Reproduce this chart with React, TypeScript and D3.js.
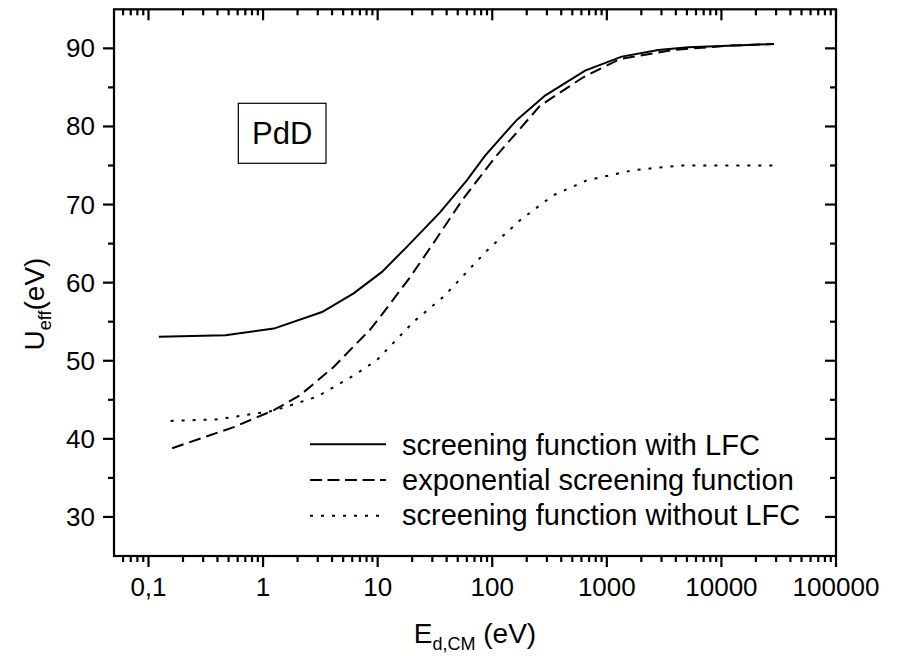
import React from "react";
import * as d3 from "d3";

// Data (energy in eV, U_eff in eV)
const solidE = [0.123, 0.469, 1.24, 3.27, 6.17, 10.9, 18.5, 35, 60, 87, 164, 289, 646, 1349, 2812, 5140, 15000, 28800];
const solidU = [53.07, 53.26, 54.12, 56.24, 58.63, 61.38, 64.77, 69.0, 73.1, 76.3, 80.84, 83.95, 87.15, 88.94, 89.8, 90.13, 90.4, 90.56];

const dashE = [0.161, 0.284, 0.555, 1.24, 2.11, 4.13, 8.6, 10.5, 19.2, 31.8, 54.3, 106, 262, 623, 1303, 3800, 12000, 28800];
const dashU = [38.8, 40.05, 41.5, 43.67, 45.6, 49.2, 54.0, 55.6, 60.7, 65.4, 70.5, 76.06, 82.67, 86.3, 88.64, 89.8, 90.35, 90.56];

const dotE = [0.156, 0.4, 1.24, 2.96, 6.17, 9.86, 20.6, 37.6, 89.8, 175, 342, 668, 1702, 4345, 28800];
const dotU = [42.3, 42.5, 43.6, 45.4, 48.1, 50.1, 55.0, 58.2, 64.1, 68.0, 71.2, 73.1, 74.4, 75.0, 75.0];

const xMajor = [0.1, 1, 10, 100, 1000, 10000, 100000];
const xMajorLabels = ["0,1", "1", "10", "100", "1000", "10000", "100000"];
const yMajor = [30, 40, 50, 60, 70, 80, 90];
const yMinor = [35, 45, 55, 65, 75, 85];

const legendLabels = [
  "screening function with LFC",
  "exponential screening function",
  "screening function without LFC",
];

const FONT = "'Liberation Sans', Arial, Helvetica, sans-serif";

export default function App() {
  const W = 898, H = 656;
  const left = 114, right = 836, top = 9.3, bottom = 556;
  const x = d3.scaleLog().domain([0.05, 100000]).range([left, right]);
  const y = d3.scaleLinear().domain([25, 95]).range([bottom, top]);

  const xMinor: number[] = [];
  for (let e = -2; e <= 4; e++) {
    for (let m = 2; m <= 9; m++) {
      const v = m * Math.pow(10, e);
      if (v > 0.05 && v < 100000) xMinor.push(v);
    }
  }

  const line = d3
    .line<[number, number]>()
    .x((d) => x(d[0]))
    .y((d) => y(d[1]))
    .curve(d3.curveLinear);

  const series = [
    { e: solidE, u: solidU, dash: undefined as string | undefined },
    { e: dashE, u: dashU, dash: "12,6" },
    { e: dotE, u: dotU, dash: "3,8" },
  ];

  const majorLen = 11, minorLen = 6;

  return (
    <svg
      width={W}
      height={H}
      style={{ position: "absolute", left: 0, top: 0, background: "#fff" }}
      fontFamily={FONT}
    >
      <rect x={0} y={0} width={W} height={H} fill="#fff" />
      {series.map((s, i) => (
        <path
          key={i}
          d={line(s.e.map((v, j) => [v, s.u[j]] as [number, number])) || ""}
          fill="none"
          stroke="#000"
          strokeWidth={2}
          strokeDasharray={s.dash}
        />
      ))}

      <rect
        x={left}
        y={top}
        width={right - left}
        height={bottom - top}
        fill="none"
        stroke="#000"
        strokeWidth={2.2}
      />

      {xMajor.map((v) => (
        <g key={"xM" + v}>
          <line x1={x(v)} x2={x(v)} y1={bottom} y2={bottom + majorLen} stroke="#000" strokeWidth={2.2} />
          <line x1={x(v)} x2={x(v)} y1={top} y2={top + majorLen} stroke="#000" strokeWidth={2.2} />
        </g>
      ))}
      {xMinor.map((v) => (
        <g key={"xm" + v}>
          <line x1={x(v)} x2={x(v)} y1={bottom} y2={bottom + minorLen} stroke="#000" strokeWidth={2.2} />
          <line x1={x(v)} x2={x(v)} y1={top} y2={top + minorLen} stroke="#000" strokeWidth={2.2} />
        </g>
      ))}
      {xMajor.map((v, i) => (
        <text key={"xl" + v} x={x(v)} y={596} fontSize={26} textAnchor="middle" fill="#000">
          {xMajorLabels[i]}
        </text>
      ))}

      {yMajor.map((v) => (
        <g key={"yM" + v}>
          <line x1={left - majorLen} x2={left} y1={y(v)} y2={y(v)} stroke="#000" strokeWidth={2.2} />
          <line x1={right - majorLen} x2={right} y1={y(v)} y2={y(v)} stroke="#000" strokeWidth={2.2} />
          <text x={95} y={y(v) + 9} fontSize={26} textAnchor="end" fill="#000">
            {v}
          </text>
        </g>
      ))}
      {yMinor.map((v) => (
        <g key={"ym" + v}>
          <line x1={left - minorLen} x2={left} y1={y(v)} y2={y(v)} stroke="#000" strokeWidth={2.2} />
          <line x1={right - minorLen} x2={right} y1={y(v)} y2={y(v)} stroke="#000" strokeWidth={2.2} />
        </g>
      ))}

      <text x={475} y={643} fontSize={28} textAnchor="middle" fill="#000">
        E
        <tspan fontSize={18} dy={7}>d,CM</tspan>
        <tspan fontSize={28} dy={-7}>{"\u00a0(eV)"}</tspan>
      </text>
      <text transform="translate(43.5,304) rotate(-90)" fontSize={28} textAnchor="middle" fill="#000">
        U
        <tspan fontSize={18} dy={7}>eff</tspan>
        <tspan fontSize={28} dy={-7}>(eV)</tspan>
      </text>

      <rect x={238.3} y={103.3} width={87.7} height={60} fill="none" stroke="#000" strokeWidth={1.2} />
      <text x={282.2} y={143.5} fontSize={31} textAnchor="middle" fill="#000">
        PdD
      </text>

      {legendLabels.map((lab, i) => (
        <g key={lab}>
          <line
            x1={310}
            x2={386}
            y1={444.3 + i * 35.7}
            y2={444.3 + i * 35.7}
            stroke="#000"
            strokeWidth={2}
            strokeDasharray={series[i].dash === "12,6" ? "12,5.5" : series[i].dash}
          />
          <text x={402} y={455 + i * 35} fontSize={29} fill="#000">
            {lab}
          </text>
        </g>
      ))}
    </svg>
  );
}
